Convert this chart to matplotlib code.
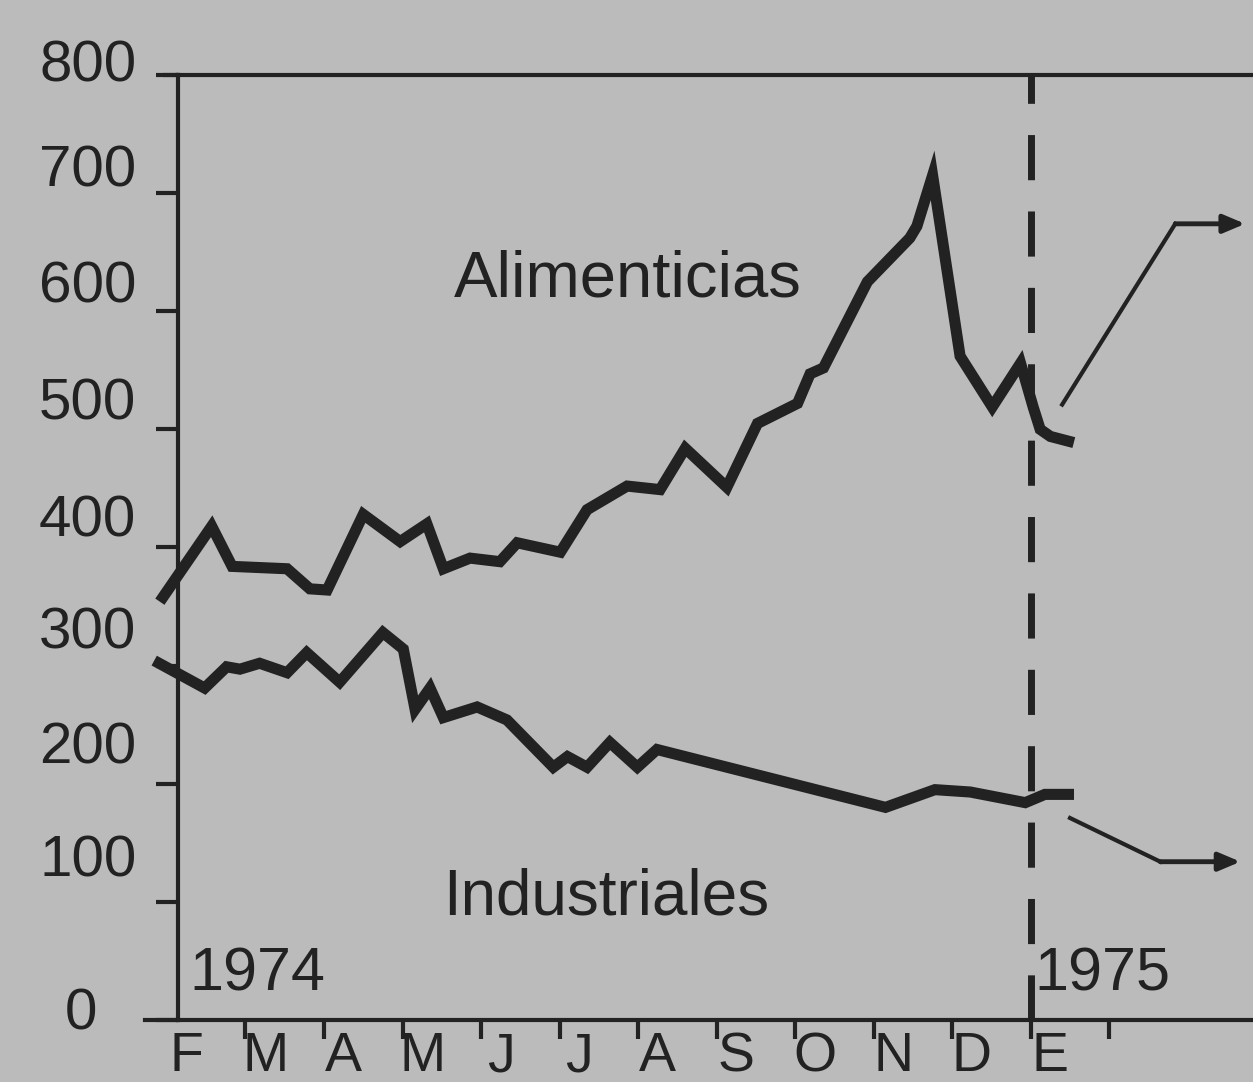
# Precios de materias primas 1974-1975: alimenticias vs industriales

import matplotlib.pyplot as plt
from matplotlib.transforms import ScaledTranslation

# Data (x = months since 1 Feb 1974)
ali_x = [-0.05, 0.57, 0.83, 1.53, 1.82, 2.04, 2.50, 2.97, 3.31, 3.52, 3.86, 4.24,
         4.46, 5.01, 5.35, 5.86, 6.28, 6.60, 7.13, 7.52, 8.03, 8.19, 8.36, 8.92,
         9.46, 9.55, 9.75, 10.10, 10.51, 10.87, 11.03, 11.12, 11.25, 11.48]
ali_y = [358, 418, 384, 382, 365, 364, 428, 405, 420, 382, 391, 388,
         404, 396, 432, 452, 449, 484, 451, 505, 522, 547, 552, 625,
         662, 672, 715, 562, 519, 556, 519, 500, 494, 490]

ind_x = [-0.10, 0.48, 0.76, 0.93, 1.18, 1.53, 1.78, 2.20, 2.75, 3.01, 3.16, 3.35,
         3.52, 3.95, 4.33, 4.92, 5.10, 5.35, 5.64, 5.99, 6.24, 9.15, 9.78, 10.23,
         10.93, 11.18, 11.48]
ind_y = [302, 281, 299, 297, 302, 294, 311, 286, 328, 314, 263, 281,
         256, 265, 254, 214, 223, 214, 235, 214, 229, 180, 195, 193,
         184, 191, 191]

months = ['F', 'M', 'A', 'M', 'J', 'J', 'A', 'S', 'O', 'N', 'D', 'E']
yticks = [0, 100, 200, 300, 400, 500, 600, 700, 800]

# Arrow paths pointing off to the right
arrow_up_x = [11.40, 12.84, 13.73]
arrow_up_y = [521, 674, 674]
arrow_dn_x = [11.50, 12.65, 13.67]
arrow_dn_y = [171, 134, 134]

bg = '#bbbbbb'
ink = '#222222'

fig = plt.figure(figsize=(12.53, 10.82), dpi=100, facecolor=bg)
ax = fig.add_axes([0.142, 0.0573, 0.858, 0.8734], facecolor=bg)

ax.plot(ali_x, ali_y, color=ink, lw=8, solid_joinstyle='miter', clip_on=False)
ax.plot(ind_x, ind_y, color=ink, lw=8, solid_joinstyle='miter', clip_on=False)

# Year divider
ax.axvline(11.0, color=ink, lw=5, dashes=(6.5, 4.5))

# Arrows
for xs, ys in [(arrow_up_x, arrow_up_y), (arrow_dn_x, arrow_dn_y)]:
    ax.plot(xs[:-1], ys[:-1], color=ink, lw=3, clip_on=False)
    ax.annotate('', xy=(xs[-1], ys[-1]), xytext=(xs[-2], ys[-2]),
                arrowprops=dict(arrowstyle='-|>,head_length=1.3,head_width=0.55',
                                color=ink, lw=3.5, shrinkA=0, shrinkB=0),
                annotation_clip=False)

# Labels
ax.text(5.87, 627, 'Alimenticias', fontsize=47, family='Liberation Sans',
        color=ink, ha='center', va='center')
ax.text(5.59, 104, 'Industriales', fontsize=46, family='Liberation Sans',
        color=ink, ha='center', va='center')
ax.text(0.29, 38, '1974', fontsize=44, family='Liberation Sans',
        color=ink, ha='left', va='center')
ax.text(11.05, 38, '1975', fontsize=44, family='Liberation Sans',
        color=ink, ha='left', va='center')

# Axes
ax.set_xlim(0.14, 13.83)
ax.set_ylim(0, 800)
ax.spines['right'].set_visible(False)
for s in ['left', 'top', 'bottom']:
    ax.spines[s].set_color(ink)
    ax.spines[s].set_linewidth(3)

ax.set_yticks(yticks)
ax.set_yticklabels([str(v) for v in yticks])
ax.tick_params(axis='y', direction='out', length=16, width=3, color=ink,
               pad=49, labelsize=42, labelcolor=ink)
# labels in the original sit above their ticks, more so toward the bottom
lift = {0: 12, 100: 46, 200: 41, 300: 38, 400: 32, 500: 31, 600: 30, 700: 28, 800: 14}
shift = {0: -7}
for lab, v in zip(ax.get_yticklabels(), yticks):
    lab.set_family('Liberation Sans')
    lab.set_horizontalalignment('center')
    off = ScaledTranslation(shift.get(v, 0) / 100, lift[v] / 100, fig.dpi_scale_trans)
    lab.set_transform(lab.get_transform() + off)

ax.set_xticks(range(1, 13))
ax.set_xticklabels([])
ax.set_xticks([m + 0.25 for m in range(12)], minor=True)
ax.set_xticklabels(months, minor=True)
ax.tick_params(axis='x', which='major', direction='out', length=14, width=3, color=ink)
ax.tick_params(axis='x', which='minor', length=0, pad=8, labelsize=40, labelcolor=ink)
for lab in ax.get_xticklabels(minor=True):
    lab.set_family('Liberation Sans')

# Bottom and top rules extend a bit left of the vertical axis
fig.add_artist(plt.Line2D([145 / 1253, 178 / 1253], [0.0573, 0.0573],
                          color=ink, lw=3, transform=fig.transFigure))
fig.add_artist(plt.Line2D([165 / 1253, 178 / 1253], [0.9307, 0.9307],
                          color=ink, lw=3, transform=fig.transFigure))

fig.savefig('out.png', dpi=100, facecolor=bg)
